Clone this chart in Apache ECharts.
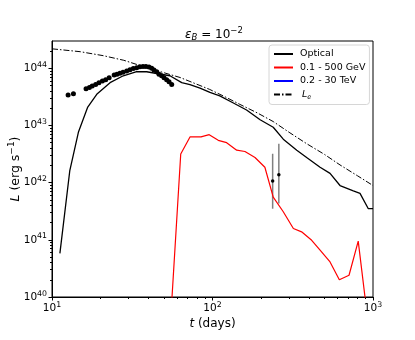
<!DOCTYPE html>
<html>
<head>
<meta charset="utf-8">
<script src="https://cdn.jsdelivr.net/npm/echarts@6/dist/echarts.min.js"></script>
<style>
html, body { margin: 0; padding: 0; background: #fff; }
#main { width: 415px; height: 340px; }
</style>
</head>
<body>
<div id="main"></div>
<script>
// optical light curve (model)
var optT = [11.2, 12.9, 14.6, 16.7, 19.0, 23, 27.8, 33.7, 38.9, 44.9, 54.3, 64.3, 72.4, 83.6, 96.4, 111, 134, 163, 198, 239, 276, 335, 386, 468, 540, 623, 754, 830, 935, 1000];
var optL = [5.8e40, 1.6e42, 7.6e42, 2.1e43, 3.5e43, 5.6e43, 7.4e43, 8.7e43, 8.7e43, 8.1e43, 7.4e43, 5.6e43, 5.2e43, 4.5e43, 3.8e43, 3.3e43, 2.5e43, 1.86e43, 1.26e43, 9.3e42, 5.75e42, 3.7e42, 2.75e42, 1.86e42, 1.45e42, 8.9e41, 7.2e41, 6.5e41, 3.5e41, 3.5e41];

// 0.1 - 500 GeV
var gevT = [54.5, 63.4, 72.4, 84.8, 95.4, 108.6, 122.5, 141.5, 159.3, 184, 212, 239, 276, 319, 359, 415, 468, 540, 617, 709, 809, 1000];
var gevL = [3e39, 3.16e42, 6.3e42, 6.3e42, 6.9e42, 5.5e42, 5.0e42, 3.7e42, 3.5e42, 2.75e42, 1.86e42, 5.6e41, 3.1e41, 1.58e41, 1.38e41, 9.8e40, 6.6e40, 4.1e40, 2.0e40, 2.4e40, 9.5e40, 7e38];

// 0.2 - 30 TeV (below the plotted range)
var tevT = [];
var tevL = [];

// L_e
var leT = [10, 15, 20.9, 28, 35.3, 45, 62.8, 80, 96, 120, 148, 190, 239, 300, 386, 500, 623, 800, 1000];
var leL = [2.19e44, 1.95e44, 1.66e44, 1.38e44, 1.12e44, 9.1e43, 6.9e43, 5.25e43, 4.27e43, 3.16e43, 2.34e43, 1.66e43, 1.17e43, 7.6e42, 4.8e42, 3.1e42, 2.04e42, 1.32e42, 8.9e41];

// observed points
var obsT = [12.6, 13.6, 16.3, 17.1, 17.8, 18.7, 19.6, 20.6, 21.6, 22.7, 24.4, 25.4, 26.5, 27.7, 29.2, 30.6, 32.1, 33.7, 35.3, 36.9, 38.5, 40.2, 41.8, 43.2, 44.9, 46.4, 48.2, 49.9, 51.8, 53.6, 55.7];
var obsL = [3.4e43, 3.6e43, 4.4e43, 4.6e43, 4.9e43, 5.2e43, 5.6e43, 6.0e43, 6.3e43, 6.8e43, 7.6e43, 7.9e43, 8.2e43, 8.5e43, 9.0e43, 9.4e43, 9.9e43, 1.02e44, 1.06e44, 1.07e44, 1.07e44, 1.05e44, 1.0e44, 9.3e43, 8.7e43, 7.9e43, 7.4e43, 6.8e43, 6.3e43, 5.8e43, 5.2e43];

// late points with error bars
var errT = [237, 259];
var errL = [1.07e42, 1.38e42];
var errLo = [3.5e41, 4.3e41];
var errHi = [3.2e42, 4.8e42];

// axis ticks
var xMajor = [10, 100, 1000];
var yMajor = [1e40, 1e41, 1e42, 1e43, 1e44];

function minorTicks(lo, hi) {
    var out = [];
    for (var d = lo; d < hi; d *= 10) {
        for (var k = 2; k <= 9; k++) out.push(k * d);
    }
    return out;
}

function pairs(a, b) {
    return a.map(function (v, i) { return [v, b[i]]; });
}

var font = 'DejaVu Sans';
var expRich = {
    b: { fontSize: 10.5, fontFamily: font, color: '#000' },
    s: { fontSize: 7.8, fontFamily: font, color: '#000', padding: [0, 0, 7, 0] }
};
function expLabel(v) {
    return '{b|10}{s|' + Math.round(Math.log10(v)) + '}';
}

var myChart = echarts.init(document.getElementById('main'));
var option = {
    backgroundColor: '#fff',
    animation: false,
    title: {
        text: '{i|ε}{sub|B}{n| = 10}{sup|−2}',
        left: 209,
        top: 21,
        textAlign: 'center',
        textStyle: {
            fontWeight: 'normal',
            rich: {
                i: { fontSize: 12, fontFamily: font, fontStyle: 'italic', fontWeight: 'normal', color: '#000' },
                sub: { fontSize: 8.5, fontFamily: font, fontStyle: 'italic', fontWeight: 'normal', color: '#000', padding: [6, 0, 0, 0] },
                n: { fontSize: 12, fontFamily: font, fontWeight: 'normal', color: '#000' },
                sup: { fontSize: 8.5, fontFamily: font, fontWeight: 'normal', color: '#000', padding: [0, 0, 8, 0] }
            }
        }
    },
    legend: {
        orient: 'vertical',
        left: 269,
        top: 45,
        padding: [4, 4, 4, 4],
        itemWidth: 19,
        itemHeight: 10,
        itemGap: 3.5,
        borderColor: '#d6d6d6',
        borderWidth: 1,
        borderRadius: 3,
        backgroundColor: 'rgba(255,255,255,0.85)',
        itemStyle: { opacity: 0, borderWidth: 0 },
        data: ['Optical', '0.1 - 500 GeV', '0.2 - 30 TeV', 'Le'],
        formatter: function (name) {
            return name === 'Le' ? '{i|L}{sub|e}' : name;
        },
        textStyle: {
            fontFamily: font,
            fontSize: 9.5,
            color: '#000',
            padding: [0, 0, 0, 2],
            rich: {
                i: { fontSize: 9.5, fontFamily: font, fontStyle: 'italic', color: '#000', padding: [0, 0, 0, 2] },
                sub: { fontSize: 6.5, fontFamily: font, fontStyle: 'italic', color: '#000', padding: [5, 0, 0, 0] }
            }
        }
    },
    grid: {
        left: 52, right: 42, top: 41, bottom: 43,
        containLabel: false, outerBoundsMode: 'none',
        show: true, borderColor: '#000', borderWidth: 1
    },
    xAxis: [{
        type: 'log', min: 10, max: 1000, position: 'bottom',
        name: '{i|t}{n| (days)}', nameLocation: 'middle', nameGap: 21,
        nameMoveOverlap: false,
        nameTextStyle: { rich: {
            i: { fontSize: 12, fontFamily: font, fontStyle: 'italic', color: '#000' },
            n: { fontSize: 12, fontFamily: font, color: '#000' }
        } },
        axisLine: { lineStyle: { color: '#000', width: 1 } },
        axisTick: { inside: false, length: 3.5, customValues: xMajor, lineStyle: { color: '#000' } },
        axisLabel: { customValues: xMajor, margin: 4, formatter: expLabel, rich: expRich },
        splitLine: { show: false }
    }, {
        type: 'log', min: 10, max: 1000, position: 'bottom',
        axisLine: { show: false },
        axisTick: { length: 2, customValues: minorTicks(10, 1000), lineStyle: { color: '#000' } },
        axisLabel: { show: false },
        splitLine: { show: false }
    }],
    yAxis: [{
        type: 'log', min: 1e40, max: 3e44, position: 'left',
        name: '{i|L}{n| (erg s}{sup|−1}{n|)}', nameLocation: 'middle', nameGap: 28,
        nameMoveOverlap: false,
        nameTextStyle: { rich: {
            i: { fontSize: 12.5, fontFamily: font, fontStyle: 'italic', color: '#000' },
            n: { fontSize: 12.5, fontFamily: font, color: '#000' },
            sup: { fontSize: 9, fontFamily: font, color: '#000', padding: [0, 0, 8, 0] }
        } },
        axisLine: { lineStyle: { color: '#000', width: 1 } },
        axisTick: { inside: false, length: 3.5, customValues: yMajor, lineStyle: { color: '#000' } },
        axisLabel: { customValues: yMajor, margin: 5, formatter: expLabel, rich: expRich },
        splitLine: { show: false }
    }, {
        type: 'log', min: 1e40, max: 3e44, position: 'left',
        axisLine: { show: false },
        axisTick: { length: 2, customValues: minorTicks(1e40, 1e45).filter(function (v) { return v <= 3e44; }), lineStyle: { color: '#000' } },
        axisLabel: { show: false },
        splitLine: { show: false }
    }],
    series: [{
        name: 'Optical', type: 'line', symbol: 'none',
        data: pairs(optT, optL),
        lineStyle: { color: '#000', width: 1.3 }, itemStyle: { color: '#000' }
    }, {
        name: '0.1 - 500 GeV', type: 'line', symbol: 'none',
        data: pairs(gevT, gevL),
        lineStyle: { color: '#ff0000', width: 1.2 }, itemStyle: { color: '#ff0000' }
    }, {
        name: '0.2 - 30 TeV', type: 'line', symbol: 'none',
        data: pairs(tevT, tevL),
        lineStyle: { color: '#0000ff', width: 1.2 }, itemStyle: { color: '#0000ff' }
    }, {
        name: 'Le', type: 'line', symbol: 'none',
        data: pairs(leT, leL),
        lineStyle: { color: '#000', width: 1, type: [6, 2, 1.5, 2] }, itemStyle: { color: '#000' }
    }, {
        name: 'obs', type: 'scatter', symbolSize: 5,
        data: pairs(obsT, obsL),
        itemStyle: { color: '#000', opacity: 1 }
    }, {
        name: 'errbar', type: 'custom',
        data: errT.map(function (t, i) { return [t, errL[i], errLo[i], errHi[i]]; }),
        renderItem: function (params, api) {
            var top = api.coord([api.value(0), api.value(3)]);
            var bot = api.coord([api.value(0), api.value(2)]);
            return {
                type: 'line',
                shape: { x1: top[0], y1: top[1], x2: bot[0], y2: bot[1] },
                style: { stroke: '#808080', lineWidth: 1.5 }
            };
        },
        z: 3
    }, {
        name: 'errpt', type: 'scatter', symbolSize: 3.5,
        data: pairs(errT, errL),
        itemStyle: { color: '#000', opacity: 1 }, z: 4
    }]
};
myChart.setOption(option);
</script>
</body>
</html>
